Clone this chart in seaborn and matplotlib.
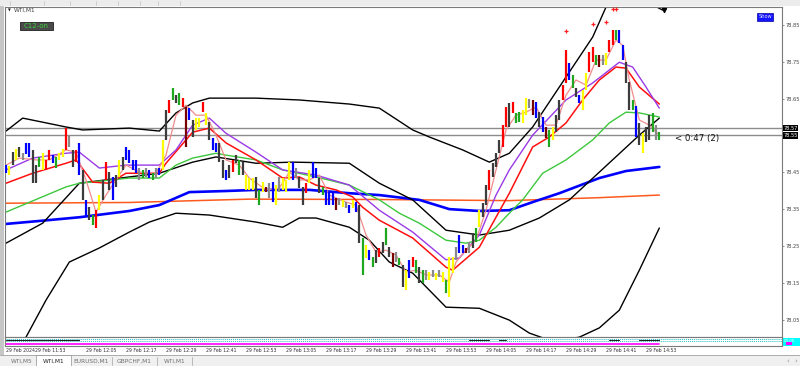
"""MT4-style WTI M1 chart: coloured bars, moving averages, bands, price scale on the right."""

import matplotlib

matplotlib.use("Agg")
import matplotlib.patches as mpatches
import matplotlib.pyplot as plt
import matplotlib.transforms as mtransforms
import seaborn as sns

W, H = 800, 366

# ---- bars (one per minute) ----
bar_high = [
    78.470, 78.467, 78.505, 78.513, 78.519, 78.502, 78.530, 78.530, 78.511, 78.470,
    78.492, 78.502, 78.484, 78.511, 78.497, 78.492, 78.502, 78.513, 78.570, 78.548,
    78.511, 78.511, 78.530, 78.457, 78.376, 78.356, 78.335, 78.348, 78.389, 78.430,
    78.478, 78.451, 78.438, 78.443, 78.484, 78.492, 78.519, 78.511, 78.484, 78.484,
    78.462, 78.457, 78.462, 78.457, 78.448, 78.462, 78.462, 78.538, 78.619, 78.646,
    78.678, 78.659, 78.665, 78.651, 78.627, 78.624, 78.592, 78.597, 78.597, 78.640,
    78.611, 78.586, 78.543, 78.530, 78.530, 78.484, 78.457, 78.470, 78.484, 78.497,
    78.484, 78.478, 78.443, 78.435, 78.435, 78.438, 78.403, 78.424, 78.411, 78.421,
    78.424, 78.416, 78.438, 78.435, 78.430, 78.478, 78.478, 78.462, 78.438, 78.411,
    78.421, 78.457, 78.478, 78.462, 78.435, 78.411, 78.403, 78.397, 78.397, 78.381,
    78.381, 78.376, 78.370, 78.362, 78.376, 78.370, 78.362, 78.273, 78.254, 78.240,
    78.221, 78.240, 78.246, 78.262, 78.300, 78.248, 78.232, 78.235, 78.219, 78.200,
    78.186, 78.213, 78.221, 78.213, 78.194, 78.186, 78.186, 78.181, 78.186, 78.178,
    78.186, 78.181, 78.159, 78.221, 78.221, 78.248, 78.281, 78.254, 78.246, 78.262,
    78.286, 78.300, 78.348, 78.367, 78.416, 78.457, 78.475, 78.502, 78.538, 78.578,
    78.627, 78.638, 78.640, 78.611, 78.613, 78.619, 78.651, 78.648, 78.646, 78.640,
    78.613, 78.600, 78.573, 78.565, 78.573, 78.605, 78.646, 78.686, 78.781, 78.746,
    78.713, 78.678, 78.659, 78.673, 78.719, 78.775, 78.789, 78.767, 78.767, 78.767,
    78.773, 78.808, 78.835, 78.835, 78.835, 78.794, 78.748, 78.694, 78.646, 78.630,
    78.584, 78.556, 78.573, 78.605, 78.611, 78.578, 78.559,
]
bar_low = [
    78.448, 78.443, 78.470, 78.484, 78.492, 78.484, 78.500, 78.492, 78.421, 78.421,
    78.465, 78.457, 78.457, 78.484, 78.475, 78.462, 78.484, 78.492, 78.511, 78.519,
    78.465, 78.478, 78.443, 78.376, 78.329, 78.321, 78.308, 78.300, 78.348, 78.376,
    78.430, 78.403, 78.376, 78.411, 78.438, 78.457, 78.484, 78.475, 78.457, 78.448,
    78.430, 78.435, 78.438, 78.435, 78.430, 78.435, 78.443, 78.457, 78.538, 78.611,
    78.646, 78.638, 78.632, 78.627, 78.519, 78.592, 78.546, 78.565, 78.573, 78.613,
    78.578, 78.538, 78.511, 78.505, 78.478, 78.435, 78.430, 78.435, 78.451, 78.475,
    78.443, 78.443, 78.403, 78.403, 78.403, 78.381, 78.362, 78.397, 78.397, 78.381,
    78.370, 78.362, 78.397, 78.403, 78.397, 78.430, 78.430, 78.435, 78.408, 78.362,
    78.394, 78.421, 78.435, 78.435, 78.394, 78.389, 78.362, 78.362, 78.362, 78.348,
    78.362, 78.356, 78.354, 78.340, 78.354, 78.343, 78.259, 78.173, 78.219, 78.213,
    78.194, 78.205, 78.221, 78.232, 78.254, 78.221, 78.194, 78.208, 78.200, 78.140,
    78.132, 78.165, 78.194, 78.178, 78.151, 78.151, 78.159, 78.159, 78.167, 78.159,
    78.167, 78.154, 78.124, 78.113, 78.178, 78.213, 78.232, 78.232, 78.232, 78.232,
    78.246, 78.262, 78.302, 78.329, 78.362, 78.403, 78.438, 78.465, 78.502, 78.519,
    78.573, 78.573, 78.611, 78.584, 78.586, 78.584, 78.605, 78.624, 78.605, 78.597,
    78.573, 78.559, 78.543, 78.519, 78.538, 78.559, 78.592, 78.646, 78.692, 78.700,
    78.678, 78.654, 78.638, 78.619, 78.673, 78.721, 78.748, 78.740, 78.735, 78.740,
    78.740, 78.775, 78.794, 78.808, 78.800, 78.754, 78.692, 78.619, 78.619, 78.546,
    78.524, 78.502, 78.532, 78.538, 78.559, 78.538, 78.538,
]
# k dark, g grey, b blue, y yellow, r red, G green, d dark red
bar_codes = (
    "bykykgbbkk" "GyrrbGyyrg" "krbkbkGryk" "rkbkykbbbb" "gGgbGgbykr"
    "GkGrdbkyyr" "ykbbkkbkrk" "GkyyykGydg" "bygyyybgkk" "rybbkGbbbd"
    "gygbybkGyb" "GkrkGkdgGk" "ybrGkGgygy" "gyGyygbbdg" "kGykkrkkkr"
    "rkrGGyygdb" "kbdGykkrrb" "GkbyyrrGdg" "yrrGbbkkGb" "kykkGgG"
)
code_colors = {"k": "#3c3c3c", "g": "#8a8a8a", "b": "#0000ff", "y": "#ffff00",
               "r": "#ff0000", "G": "#1fa81f", "d": "#7a0000"}

# ---- indicator lines, sampled at bar positions ----
pink_bar = [0, 4, 9, 13, 18, 21, 24, 27, 30, 33, 36, 40, 45, 48, 51, 54, 57, 60, 63, 66,
            70, 73, 78, 82, 85, 88, 91, 94, 97, 102, 105, 108, 111, 114, 117, 120, 123,
            126, 130, 133, 135, 138, 141, 144, 147, 150, 153, 156, 159, 162, 165, 168,
            171, 174, 177, 180, 183, 185, 187, 190, 193, 196]
pink_price = [78.470, 78.489, 78.484, 78.484, 78.511, 78.505, 78.430, 78.343, 78.389,
              78.430, 78.470, 78.451, 78.448, 78.497, 78.605, 78.632, 78.605, 78.605,
              78.551, 78.484, 78.470, 78.435, 78.403, 78.408, 78.451, 78.430, 78.430,
              78.443, 78.389, 78.370, 78.362, 78.281, 78.235, 78.240, 78.227, 78.181,
              78.186, 78.173, 78.173, 78.154, 78.208, 78.240, 78.267, 78.348, 78.457,
              78.565, 78.605, 78.613, 78.627, 78.578, 78.578, 78.659, 78.700, 78.686,
              78.754, 78.754, 78.808, 78.794, 78.700, 78.592, 78.578, 78.551]
violet_bar = [0, 8, 18, 22, 28, 36, 46, 51, 56, 61, 66, 75, 83, 93, 103, 112, 122, 132,
              136, 142, 147, 151, 158, 168, 176, 184, 188, 192, 196]
violet_price = [78.457, 78.489, 78.502, 78.505, 78.462, 78.470, 78.470, 78.511, 78.578,
                78.597, 78.556, 78.505, 78.457, 78.443, 78.416, 78.348, 78.289, 78.214,
                78.219, 78.281, 78.389, 78.457, 78.551, 78.646, 78.692, 78.748, 78.735,
                78.681, 78.624]
red_bar = [0, 8, 18, 21, 26, 31, 36, 46, 48, 56, 61, 66, 75, 83, 88, 93, 99, 104, 107,
           112, 122, 132, 134, 142, 151, 158, 163, 168, 173, 178, 183, 186, 190, 196]
red_price = [78.421, 78.448, 78.475, 78.484, 78.424, 78.421, 78.448, 78.448, 78.475,
             78.559, 78.570, 78.530, 78.484, 78.435, 78.438, 78.416, 78.403, 78.384,
             78.356, 78.321, 78.273, 78.194, 78.186, 78.248, 78.394, 78.519, 78.546,
             78.584, 78.646, 78.700, 78.735, 78.732, 78.681, 78.635]
green_bar = [0, 18, 22, 37, 46, 51, 56, 63, 66, 75, 83, 93, 103, 112, 118, 124, 132,
             138, 142, 147, 151, 155, 161, 168, 176, 181, 186, 190, 196]
green_price = [78.343, 78.411, 78.421, 78.435, 78.435, 78.470, 78.489, 78.502, 78.497,
               78.484, 78.457, 78.438, 78.416, 78.376, 78.340, 78.313, 78.267, 78.259,
               78.267, 78.302, 78.340, 78.376, 78.448, 78.484, 78.538, 78.584, 78.613,
               78.611, 78.600]
mid_bar = [0, 11, 22, 37, 46, 56, 63, 75, 86, 103, 112, 122, 132, 142, 151, 160, 169,
           178, 190, 196]
mid_price = [78.259, 78.313, 78.421, 78.438, 78.448, 78.478, 78.492, 78.475, 78.478,
             78.475, 78.421, 78.376, 78.294, 78.281, 78.294, 78.327, 78.376, 78.451,
             78.551, 78.597]
upper_bar = [0, 5, 11, 18, 23, 37, 46, 51, 56, 61, 75, 88, 103, 112, 122, 127, 137,
             145, 151, 158, 168, 176, 180, 184, 189, 194, 197]
upper_price = [78.562, 78.597, 78.586, 78.573, 78.565, 78.570, 78.562, 78.611, 78.638,
               78.651, 78.651, 78.646, 78.635, 78.624, 78.565, 78.546, 78.511, 78.478,
               78.502, 78.573, 78.708, 78.816, 78.897, 78.957, 78.957, 78.903, 78.889]
lower_bar = [0, 6, 12, 19, 28, 37, 43, 51, 61, 75, 83, 88, 93, 103, 109, 115, 122, 132,
             142, 151, 157, 162, 167, 172, 178, 184, 190, 196]
lower_price = [77.938, 78.005, 78.105, 78.208, 78.246, 78.289, 78.316, 78.340, 78.335,
               78.316, 78.302, 78.327, 78.327, 78.302, 78.267, 78.208, 78.178, 78.086,
               78.083, 78.051, 78.016, 78.000, 77.997, 78.005, 78.030, 78.078, 78.186,
               78.300]
blue_bar = [0, 10, 22, 37, 46, 55, 66, 75, 91, 103, 112, 124, 133, 142, 151, 158, 166,
            178, 186, 196]
blue_price = [78.311, 78.319, 78.329, 78.346, 78.362, 78.397, 78.400, 78.403, 78.403,
              78.394, 78.389, 78.376, 78.351, 78.346, 78.348, 78.370, 78.394, 78.435,
              78.454, 78.465]
orange_bar = [0, 37, 73, 112, 151, 178, 196]
orange_price = [78.367, 78.369, 78.378, 78.377, 78.374, 78.382, 78.389]

signal_bar = [168, 176, 180, 182, 183]
signal_price = [78.832, 78.851, 78.857, 78.892, 78.892]

price_ticks = [78.05, 78.15, 78.25, 78.35, 78.45, 78.65, 78.75, 78.85]
level_prices = [78.57, 78.55]
time_tick_bars = [0, 8.6, 24, 36, 48, 60, 72, 84, 96, 108, 120, 132, 144, 156, 168, 180, 192]
time_tick_labels = ["29 Feb 2024", "29 Feb 11:53", "29 Feb 12:05", "29 Feb 12:17",
                    "29 Feb 12:29", "29 Feb 12:41", "29 Feb 12:53", "29 Feb 13:05",
                    "29 Feb 13:17", "29 Feb 13:29", "29 Feb 13:41", "29 Feb 13:53",
                    "29 Feb 14:05", "29 Feb 14:17", "29 Feb 14:29", "29 Feb 14:41",
                    "29 Feb 14:53"]
tab_labels = ["WTI,M5", "WTI,M1", "EURUSD,M1", "GBPCHF,M1", "WTI,M1"]
tab_edges = [8, 36, 71, 112, 157, 192]


def fx(px):
    return px / W


def fy(py):
    return 1 - py / H


def frect(fig, x0, y0, x1, y1, **kw):
    fig.patches.append(mpatches.Rectangle((fx(x0), fy(y1)), fx(x1 - x0), (y1 - y0) / H,
                                          transform=fig.transFigure, **kw))


def main() -> None:
    sns.set_style("white")
    plt.rcParams["font.family"] = ["DejaVu Sans"]

    fig = plt.figure(figsize=(W / 100, H / 100), dpi=100)
    fig.patch.set_facecolor("white")

    # toolbar, left border, tab strip
    frect(fig, 0, 0, 800, 6, facecolor="#ececec", edgecolor="none")
    for sx in [10, 44, 70, 96, 118, 140, 158, 180]:
        fig.add_artist(plt.Line2D([fx(sx), fx(sx)], [fy(1), fy(5)], color="#c8c8c8", lw=0.6))
    frect(fig, 0, 6, 4, 356, facecolor="#c6c6c6", edgecolor="none")
    frect(fig, 0, 355, 800, 366, facecolor="#f0f0f0", edgecolor="none")
    fig.add_artist(plt.Line2D([0, 1], [fy(355), fy(355)], color="#a0a0a0", lw=0.6))

    ax = fig.add_axes([fx(5), fy(337), fx(777), 330 / H])
    ax.set_xlim(-0.3, 232.8)
    ax.set_ylim(78.0054, 78.8973)
    ax.set_facecolor("white")

    for p in level_prices:
        ax.axhline(p, color="#8c8c8c", lw=1.0, zorder=1)

    line_specs = [
        (orange_bar, orange_price, "#ff5a1e", 1.1),
        (blue_bar, blue_price, "#0000ff", 1.9),
        (lower_bar, lower_price, "#000000", 1.0),
        (upper_bar, upper_price, "#000000", 1.0),
        (mid_bar, mid_price, "#000000", 1.0),
        (green_bar, green_price, "#3cc83c", 1.0),
        (red_bar, red_price, "#ff1010", 1.1),
        (violet_bar, violet_price, "#9a3ae6", 1.0),
        (pink_bar, pink_price, "#f08c8c", 0.9),
    ]
    for xs, ys, col, lw in line_specs:
        sns.lineplot(x=xs, y=ys, ax=ax, color=col, linewidth=lw, estimator=None,
                     sort=False, zorder=2)

    idx = list(range(len(bar_high)))
    cols = [code_colors[c] for c in bar_codes]
    ax.vlines(idx, bar_low, bar_high, colors=cols, linewidth=1.6, zorder=3)

    ax.scatter(signal_bar, signal_price, marker="+", color="#ff2020", s=10, lw=0.9, zorder=4)
    ax.scatter([197.5], [78.889], marker="v", color="black", s=8, zorder=4)

    ax.set_xticks([])
    ax.yaxis.tick_right()
    ax.set_yticks(price_ticks)
    ax.set_yticklabels([f"{v:.2f}" for v in price_ticks], fontsize=3.6, color="#404040")
    ax.tick_params(axis="y", length=1.5, width=0.5, color="#606060", pad=0.8)
    ax.set_xlabel("")
    ax.set_ylabel("")
    for s in ax.spines.values():
        s.set_color("#7a7a7a")
        s.set_linewidth(0.8)

    trans = mtransforms.blended_transform_factory(ax.transAxes, ax.transData)
    for p in level_prices:
        ax.text(1.0015, p, f"{p:.2f}", transform=trans, fontsize=3.6, color="white",
                va="center", ha="left",
                bbox=dict(boxstyle="square,pad=0.12", facecolor="black", edgecolor="none"))

    # bottom indicator strip
    ax2 = fig.add_axes([fx(5), fy(346), fx(777), 9 / H])
    ax2.set_xlim(-0.3, 232.8)
    ax2.set_ylim(0, 1)
    ax2.set_xticks([])
    ax2.set_yticks([])
    ax2.axhline(0.8, color="#20c0c0", lw=0.7, ls=(0, (1, 1)))
    ax2.axhline(0.55, color="#20c0c0", lw=0.7, ls=(0, (1, 1)))
    ax2.plot([0, 196], [0.25, 0.25], color="#ff00ff", lw=1.2)
    for a, b in [(0, 22), (139, 145), (148, 150), (181, 184), (190, 196)]:
        ax2.plot([a, b], [0.62, 0.62], color="#202020", lw=0.8)
    for s in ax2.spines.values():
        s.set_color("#7a7a7a")
        s.set_linewidth(0.8)
    frect(fig, 783, 338, 800, 346, facecolor="#00ffff", edgecolor="none")
    frect(fig, 786, 342, 792, 345, facecolor="#ff00ff", edgecolor="none")
    fig.text(fx(789), fy(340.5), "00.00", fontsize=2.8, color="white", ha="center", va="center")

    # time scale
    ttrans = mtransforms.blended_transform_factory(ax.transData, fig.transFigure)
    for b, lab in zip(time_tick_bars, time_tick_labels):
        fig.text(b, fy(350.5), lab, transform=ttrans, fontsize=3.3, color="#303030",
                 ha="left", va="center")

    # tabs
    frect(fig, tab_edges[1], 355, tab_edges[2], 366, facecolor="white", edgecolor="#a0a0a0", lw=0.6)
    for i, lab in enumerate(tab_labels):
        cx = (tab_edges[i] + tab_edges[i + 1]) / 2
        fig.text(fx(cx), fy(361), lab, fontsize=4.2, ha="center", va="center",
                 color="#202020" if i == 1 else "#707070")
        fig.add_artist(plt.Line2D([fx(tab_edges[i + 1]), fx(tab_edges[i + 1])],
                                  [fy(357), fy(365)], color="#b0b0b0", lw=0.6))
    fig.text(fx(788), fy(361), "\u2039", fontsize=5, color="#909090", ha="center", va="center")
    fig.text(fx(796), fy(361), "\u203a", fontsize=5, color="#909090", ha="center", va="center")

    # chart labels and buttons
    fig.text(fx(8), fy(10.5), "\u25bc", fontsize=2.6, color="#202020", ha="left", va="center")
    fig.text(fx(14), fy(10.5), "WTI,M1", fontsize=4.2, color="#404040", ha="left", va="center")
    frect(fig, 20, 22, 53, 30, facecolor="#4a4a4a", edgecolor="#202020", lw=0.6)
    fig.text(fx(36.5), fy(26), "C12-on", fontsize=5, color="#38d038", ha="center", va="center")
    frect(fig, 757, 13, 773, 21, facecolor="#1414ff", edgecolor="#0000a0", lw=0.5)
    fig.text(fx(765), fy(17), "Show", fontsize=3.6, color="#dcdcff", ha="center", va="center")
    fig.text(fx(675), fy(139), "< 0:47 (2)", fontsize=6.2, color="#101010", ha="left", va="center")

    fig.savefig("out.png", dpi=100)
    plt.close(fig)


if __name__ == "__main__":
    main()
